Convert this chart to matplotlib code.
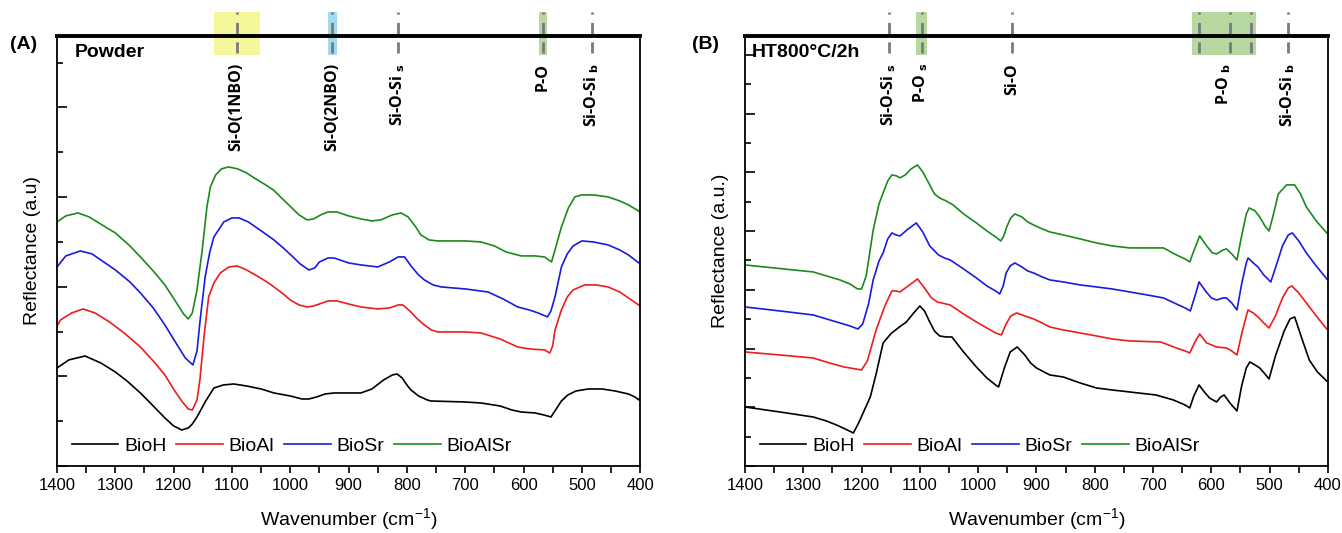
import matplotlib
matplotlib.use('Agg')
import matplotlib.pyplot as plt
from matplotlib.ticker import MultipleLocator
from matplotlib.patches import Rectangle
import matplotlib.transforms as mtransforms

plt.rcParams['font.family'] = ['Liberation Sans', 'DejaVu Sans']

# ---- (A) powder ----
wnA_H = [1400, 1380, 1352, 1325, 1300, 1280, 1257, 1235, 1215, 1200, 1186, 1175, 1168, 1160,
         1145, 1131, 1115, 1097, 1075, 1050, 1028, 1000, 980, 968, 955, 940, 925, 900, 879,
         860, 840, 825, 817, 808, 800, 793, 780, 765, 759, 700, 673, 640, 620, 604, 580,
         565, 553, 545, 535, 524, 510, 489, 465, 443, 420, 409, 402, 400]
rA_H = [0.98, 1.06, 1.10, 1.03, 0.94, 0.85, 0.73, 0.60, 0.48, 0.40, 0.36, 0.38, 0.42, 0.49,
        0.65, 0.78, 0.81, 0.82, 0.80, 0.77, 0.73, 0.70, 0.67, 0.67, 0.69, 0.72, 0.73, 0.73, 0.73,
        0.77, 0.86, 0.91, 0.92, 0.88, 0.81, 0.76, 0.70, 0.66, 0.65, 0.64, 0.63, 0.60, 0.56, 0.54, 0.53,
        0.51, 0.49, 0.56, 0.65, 0.71, 0.75, 0.77, 0.77, 0.75, 0.72, 0.69, 0.66, 0.69]

wnA_Al = [1400, 1394, 1375, 1355, 1335, 1310, 1285, 1257, 1235, 1215, 1198, 1185, 1175, 1168,
          1160, 1155, 1148, 1140, 1131, 1120, 1105, 1091, 1075, 1057, 1040, 1028, 1012, 1000,
          985, 971, 960, 950, 935, 920, 900, 879, 850, 830, 815, 807, 795, 782, 770, 758, 747,
          700, 673, 640, 610, 590, 564, 555, 550, 546, 535, 525, 515, 495, 475, 455, 435, 420, 400]
rA_Al = [1.40, 1.46, 1.53, 1.57, 1.53, 1.44, 1.33, 1.19, 1.05, 0.91, 0.75, 0.64, 0.57, 0.56,
         0.66, 0.86, 1.29, 1.69, 1.83, 1.93, 1.99, 2.00, 1.96, 1.90, 1.84, 1.79, 1.72, 1.66,
         1.61, 1.59, 1.60, 1.62, 1.65, 1.65, 1.62, 1.59, 1.57, 1.58, 1.61, 1.61, 1.55, 1.47, 1.41, 1.36, 1.34,
         1.34, 1.33, 1.27, 1.19, 1.17, 1.16, 1.13, 1.20, 1.36, 1.56, 1.69, 1.76, 1.81, 1.81, 1.79, 1.74, 1.68, 1.60]

wnA_Sr = [1400, 1385, 1360, 1340, 1320, 1300, 1275, 1257, 1235, 1215, 1195, 1180, 1167, 1160,
          1154, 1146, 1138, 1131, 1114, 1100, 1088, 1072, 1057, 1040, 1028, 1012, 999, 983, 968,
          958, 950, 935, 925, 900, 879, 850, 830, 815, 804, 793, 780, 770, 755, 741, 700, 661,
          635, 610, 590, 575, 559, 553, 546, 535, 525, 515, 500, 480, 455, 435, 420, 400]
rA_Sr = [1.99, 2.10, 2.15, 2.12, 2.04, 1.96, 1.84, 1.73, 1.58, 1.41, 1.22, 1.08, 1.01, 1.15,
         1.49, 1.89, 2.14, 2.29, 2.44, 2.48, 2.48, 2.44, 2.38, 2.31, 2.26, 2.18, 2.11, 2.02, 1.96,
         1.98, 2.04, 2.08, 2.08, 2.03, 2.01, 1.99, 2.04, 2.09, 2.09, 2.00, 1.91, 1.86, 1.81, 1.79, 1.77, 1.74,
         1.67, 1.59, 1.56, 1.53, 1.49, 1.55, 1.69, 1.99, 2.12, 2.20, 2.25, 2.24, 2.21, 2.16, 2.11, 2.02]

wnA_AlSr = [1400, 1385, 1364, 1345, 1320, 1300, 1275, 1257, 1235, 1215, 1195, 1183, 1175, 1168,
            1160, 1151, 1143, 1137, 1128, 1118, 1106, 1090, 1075, 1062, 1045, 1029, 1015, 999,
            985, 971, 960, 948, 935, 920, 900, 879, 860, 845, 825, 810, 798, 786, 776, 762, 747,
            700, 673, 650, 630, 604, 580, 564, 552, 545, 535, 523, 512, 500, 480, 455, 435, 420, 400]
rA_AlSr = [2.44, 2.50, 2.53, 2.49, 2.40, 2.33, 2.20, 2.09, 1.95, 1.81, 1.63, 1.52, 1.47, 1.53,
           1.76, 2.16, 2.59, 2.79, 2.91, 2.97, 2.99, 2.97, 2.93, 2.88, 2.82, 2.76, 2.68, 2.59,
           2.51, 2.46, 2.47, 2.51, 2.54, 2.54, 2.50, 2.47, 2.45, 2.46, 2.51, 2.53, 2.49, 2.40, 2.31, 2.26, 2.25,
           2.25, 2.24, 2.20, 2.14, 2.10, 2.10, 2.09, 2.04, 2.18, 2.39, 2.58, 2.69, 2.71, 2.71, 2.69, 2.65, 2.61, 2.54]

# ---- (B) HT800C/2h ----
wnB_H = [1400, 1340, 1283, 1260, 1243, 1228, 1214, 1205, 1195, 1185, 1175, 1163, 1150, 1146,
         1135, 1123, 1112, 1100, 1092, 1083, 1075, 1066, 1055, 1045, 1025, 1003, 985, 970, 965,
         955, 945, 933, 920, 910, 900, 877, 854, 825, 797, 770, 740, 695, 665, 645, 637, 630,
         621, 612, 603, 591, 584, 578, 568, 556, 548, 540, 534, 525, 517, 508, 501, 490, 475,
         465, 457, 445, 432, 418, 402]
rB_H = [0.59, 0.54, 0.49, 0.45, 0.41, 0.37, 0.33, 0.43, 0.56, 0.69, 0.92, 1.23, 1.32, 1.34,
        1.39, 1.44, 1.52, 1.60, 1.55, 1.44, 1.35, 1.30, 1.29, 1.29, 1.14, 0.99, 0.88, 0.81, 0.79,
        0.98, 1.14, 1.19, 1.11, 1.03, 0.98, 0.91, 0.89, 0.83, 0.78, 0.76, 0.74, 0.71, 0.66, 0.61, 0.58, 0.70,
        0.81, 0.74, 0.68, 0.64, 0.69, 0.71, 0.63, 0.55, 0.80, 0.98, 1.04, 1.01, 0.98, 0.92, 0.87, 1.10, 1.35,
        1.47, 1.49, 1.28, 1.06, 0.94, 0.85]

wnB_Al = [1400, 1340, 1283, 1255, 1230, 1210, 1200, 1190, 1175, 1160, 1148, 1141, 1134, 1120,
          1104, 1092, 1080, 1070, 1048, 1025, 1003, 985, 970, 960, 952, 944, 934, 920, 905, 890,
          877, 854, 825, 797, 770, 740, 687, 660, 645, 637, 628, 620, 608, 591, 574, 565, 556,
          548, 540, 537, 528, 520, 510, 501, 490, 478, 468, 462, 450, 437, 420, 402]
rB_Al = [1.14, 1.11, 1.08, 1.03, 0.99, 0.97, 0.96, 1.05, 1.36, 1.60, 1.75, 1.75, 1.74, 1.80,
         1.87, 1.78, 1.68, 1.64, 1.61, 1.52, 1.44, 1.38, 1.33, 1.31, 1.42, 1.50, 1.53, 1.50, 1.47, 1.43,
         1.39, 1.36, 1.33, 1.30, 1.27, 1.25, 1.24, 1.18, 1.15, 1.13, 1.24, 1.32, 1.23, 1.19, 1.18, 1.15, 1.11,
         1.32, 1.50, 1.56, 1.53, 1.49, 1.43, 1.38, 1.50, 1.68, 1.78, 1.80, 1.73, 1.63, 1.50, 1.37]

wnB_Sr = [1400, 1340, 1283, 1260, 1237, 1220, 1206, 1198, 1188, 1180, 1170, 1163, 1155, 1148,
          1141, 1134, 1120, 1106, 1095, 1083, 1068, 1058, 1048, 1025, 1003, 985, 970, 963, 957,
          952, 945, 937, 925, 915, 905, 890, 877, 854, 825, 797, 770, 740, 710, 682, 660, 645,
          636, 628, 621, 610, 600, 591, 580, 574, 565, 556, 548, 540, 537, 528, 520, 510, 498,
          490, 478, 468, 461, 450, 437, 420, 402]
rB_Sr = [1.59, 1.55, 1.51, 1.47, 1.43, 1.40, 1.37, 1.42, 1.62, 1.86, 2.05, 2.13, 2.27, 2.33,
         2.31, 2.30, 2.37, 2.43, 2.34, 2.20, 2.11, 2.08, 2.06, 1.97, 1.88, 1.80, 1.75, 1.72, 1.80,
         1.93, 2.00, 2.03, 1.99, 1.95, 1.93, 1.89, 1.86, 1.84, 1.81, 1.79, 1.77, 1.74, 1.71, 1.68, 1.62, 1.58,
         1.55, 1.70, 1.84, 1.75, 1.68, 1.66, 1.68, 1.68, 1.63, 1.56, 1.82, 2.03, 2.08, 2.03, 1.99, 1.91, 1.84,
         1.98, 2.20, 2.31, 2.33, 2.25, 2.13, 2.00, 1.87]

wnB_AlSr = [1400, 1350, 1300, 1283, 1260, 1237, 1220, 1207, 1200, 1192, 1180, 1170, 1163, 1155,
            1148, 1140, 1134, 1125, 1115, 1104, 1095, 1083, 1075, 1066, 1055, 1043, 1025, 1003,
            985, 970, 961, 956, 951, 944, 937, 925, 915, 905, 890, 877, 854, 825, 797, 770, 740,
            700, 682, 660, 645, 637, 630, 620, 608, 598, 591, 580, 574, 565, 556, 548, 540, 535,
            525, 517, 508, 501, 495, 485, 471, 457, 447, 437, 420, 402]
rB_AlSr = [2.01, 1.98, 1.95, 1.94, 1.90, 1.86, 1.82, 1.77, 1.77, 1.90, 2.36, 2.62, 2.73, 2.85,
           2.91, 2.90, 2.88, 2.91, 2.97, 3.01, 2.94, 2.81, 2.72, 2.68, 2.65, 2.61, 2.52, 2.43,
           2.35, 2.29, 2.25, 2.30, 2.39, 2.48, 2.52, 2.49, 2.44, 2.41, 2.37, 2.34, 2.31, 2.27, 2.23, 2.20, 2.18,
           2.18, 2.18, 2.11, 2.07, 2.04, 2.15, 2.30, 2.20, 2.13, 2.12, 2.16, 2.17, 2.12, 2.06, 2.30, 2.52, 2.58,
           2.55, 2.49, 2.40, 2.35, 2.48, 2.72, 2.81, 2.81, 2.72, 2.59, 2.45, 2.33]

series_names = ['BioH', 'BioAl', 'BioSr', 'BioAlSr']
colors = ['black', '#ee1c1c', '#1a1ae0', '#1b8a1b']

# band assignments (dashed lines, shaded ranges, labels)
linesA = [1092, 928, 816, 567, 483]
spansA = [(1131, 1052, '#f6f69a'), (935, 920, '#a2daf0'), (574, 560, '#b7d8a0')]
labA_pos = [1092, 928, 816, 567, 483]
labA_txt = ['Si-O(1NBO)', 'Si-O(2NBO)', r'Si-O-Si $_\mathbf{s}$', 'P-O', r'Si-O-Si $_\mathbf{b}$']

linesB = [1153, 1096, 942, 621, 568, 532, 469]
spansB = [(1107, 1088, '#b7d8a0'), (633, 523, '#b7d8a0')]
labB_pos = [1153, 1098, 942, 578, 469]
labB_txt = [r'Si-O-Si $_\mathbf{s}$', r'P-O $_\mathbf{s}$', 'Si-O', r'P-O $_\mathbf{b}$', r'Si-O-Si $_\mathbf{b}$']


def drawPanel(ax, data, ylabel, title, title_x, lines, spans, lab_pos, lab_txt, ymajor):
    for (wn, r), name, c in zip(data, series_names, colors):
        ax.plot(wn, r, color=c, lw=1.2, label=name)
    ax.set_xlim(1400, 400)
    ax.set_ylim(0, 4.30)
    ax.xaxis.set_major_locator(MultipleLocator(100))
    ax.xaxis.set_minor_locator(MultipleLocator(50))
    ax.yaxis.set_major_locator(MultipleLocator(ymajor))
    ax.yaxis.set_minor_locator(MultipleLocator(ymajor / 2))
    ax.tick_params(axis='x', which='both', direction='out', length=5, width=1.2,
                   labelsize=12, top=False)
    ax.tick_params(axis='y', which='major', direction='in', length=7, width=1.2,
                   labelleft=False, right=False)
    ax.tick_params(axis='y', which='minor', direction='in', length=4, width=1.2, right=False)
    for s in ['left', 'right', 'bottom']:
        ax.spines[s].set_linewidth(1.3)
    ax.spines['top'].set_linewidth(2.8)
    ax.set_xlabel(r'Wavenumber (cm$^{\mathregular{-1}}$)', fontsize=14, labelpad=10)
    ax.set_ylabel(ylabel, fontsize=14, labelpad=8)

    trans = mtransforms.blended_transform_factory(ax.transData, ax.transAxes)
    for x0, x1, c in spans:
        ax.add_patch(Rectangle((x1, 0.956), x0 - x1, 0.10, transform=trans,
                               facecolor=c, edgecolor='none', clip_on=False, zorder=1))
    for x in lines:
        ax.plot([x, x], [0.96, 1.056], transform=trans, color='#7a7a7a', lw=2,
                dashes=(4, 3), clip_on=False, zorder=3)
    for x, t in zip(lab_pos, lab_txt):
        ax.text(x, 0.937, t, transform=trans, rotation=90, ha='center', va='top',
                fontsize=11.5, fontweight='bold', family=['Open Sans', 'DejaVu Sans'])

    ax.text(title_x, 0.962, title, transform=ax.transAxes,
            fontsize=14, fontweight='bold', va='center', ha='left')
    ax.legend(loc='lower left', bbox_to_anchor=(-0.005, -0.015), ncol=4, frameon=False,
              fontsize=14, handlelength=2.4, handletextpad=0.3, columnspacing=0.5)


fig = plt.figure(figsize=(13.42, 5.33), dpi=100)
axA = fig.add_axes([0.0425, 0.1257, 0.4345, 0.807])
axB = fig.add_axes([0.5551, 0.1257, 0.4344, 0.807])

dataA = [(wnA_H, rA_H), (wnA_Al, rA_Al), (wnA_Sr, rA_Sr), (wnA_AlSr, rA_AlSr)]
dataB = [(wnB_H, rB_H), (wnB_Al, rB_Al), (wnB_Sr, rB_Sr), (wnB_AlSr, rB_AlSr)]

drawPanel(axA, dataA, 'Reflectance (a.u)', 'Powder', 0.031, linesA, spansA,
          labA_pos, labA_txt, 0.896)
drawPanel(axB, dataB, 'Reflectance (a.u.)', 'HT800°C/2h', 0.012, linesB, spansB,
          labB_pos, labB_txt, 0.587)

fig.text(0.0075, 0.916, '(A)', fontsize=14, fontweight='bold', va='center')
fig.text(0.516, 0.916, '(B)', fontsize=14, fontweight='bold', va='center')

fig.savefig('out.png', dpi=100)
